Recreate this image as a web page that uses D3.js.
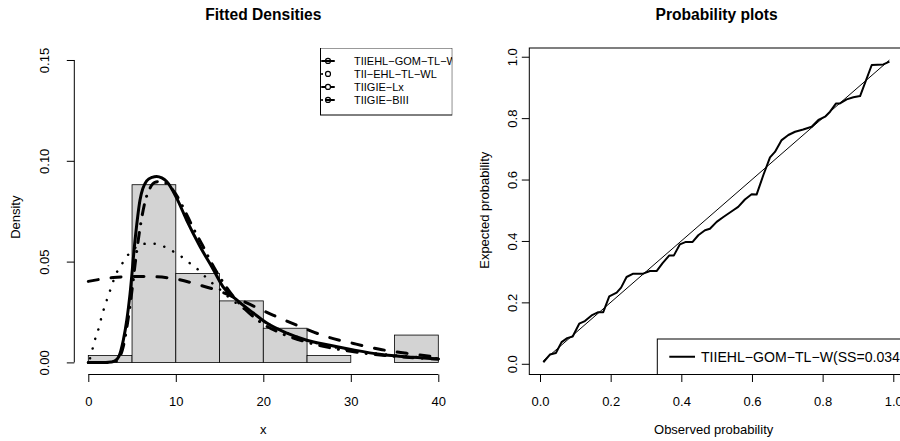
<!DOCTYPE html>
<html>
<head>
<meta charset="utf-8">
<script src="https://cdn.jsdelivr.net/npm/d3@7"></script>
<style>
  body { margin: 0; background: #fff; }
  svg { display: block; font-family: "Liberation Sans", Arial, sans-serif; }
</style>
</head>
<body>
<svg id="chart" width="900" height="441"></svg>
<script>
// Histogram (counts per 5-unit bin)
const binEdges = [0, 5, 10, 15, 20, 25, 30, 35, 40];
const binCounts = [1, 26, 13, 9, 5, 1, 0, 4];
const sampleSize = 59;

// Fitted density curves
const gomX = [0, 1, 2, 2.6, 3.0, 3.5, 4.0, 4.4, 4.77, 5.34, 5.91, 6.67, 7.3, 7.81, 8.4, 8.96, 10.1, 11.25, 12.77, 14.3, 15.4, 16.96, 18.86, 20.4, 22.7, 24.96, 27.6, 30.3, 33.3, 37.1, 40];
const gomY = [0, 0, 0, 0.0002, 0.0006, 0.003, 0.011, 0.021, 0.034, 0.0605, 0.0805, 0.090, 0.0918, 0.0922, 0.0915, 0.0897, 0.0815, 0.0705, 0.0575, 0.046, 0.0375, 0.031, 0.0245, 0.0195, 0.0145, 0.011, 0.0085, 0.0062, 0.004, 0.0025, 0.0017];

const ehlX = [0.2, 0.39, 0.57, 1.03, 1.64, 2.4, 3.24, 3.8, 4.57, 5.34, 6.48, 7.62, 8.77, 9.9, 10.86, 11.8, 12.77, 13.7, 14.7, 16, 17.5, 20, 22.5, 25, 30, 35, 40];
const ehlY = [0.002, 0.0045, 0.0085, 0.0145, 0.0245, 0.0345, 0.0445, 0.0485, 0.0535, 0.0568, 0.0588, 0.0588, 0.0572, 0.0545, 0.0518, 0.0485, 0.0452, 0.041, 0.0375, 0.0325, 0.0275, 0.0205, 0.015, 0.011, 0.006, 0.0035, 0.002];

const lxX = [0, 2.86, 5.14, 7.4, 10.1, 12.2, 15.05, 18.1, 21.1, 24.2, 27.2, 30.3, 33.3, 36.4, 40];
const lxY = [0.0402, 0.0421, 0.0426, 0.0425, 0.0413, 0.039, 0.0352, 0.0295, 0.0235, 0.0178, 0.0128, 0.0094, 0.0065, 0.0045, 0.0025];

const biiiX = [0, 2, 3, 3.5, 4, 4.5, 5, 5.5, 6, 6.5, 7, 7.6, 8.3, 9, 10, 11, 12, 13, 14, 15, 16, 17, 18, 20, 22, 25, 30, 35, 40];
const biiiY = [0, 0, 0.0003, 0.002, 0.008, 0.020, 0.036, 0.054, 0.069, 0.080, 0.086, 0.0893, 0.0898, 0.0885, 0.0835, 0.0755, 0.0665, 0.0585, 0.050, 0.0425, 0.036, 0.0305, 0.026, 0.019, 0.0145, 0.0100, 0.0055, 0.003, 0.0017];

// Probability plot (observed vs expected), vertices of the step-like line
const obsProb = [0.0094, 0.028, 0.045, 0.061, 0.077, 0.0925, 0.111, 0.127, 0.146, 0.165, 0.179, 0.196, 0.217, 0.2295, 0.245, 0.264, 0.292, 0.311, 0.330, 0.347, 0.366, 0.379, 0.396, 0.413, 0.432, 0.448, 0.467, 0.481, 0.500, 0.519, 0.547, 0.561, 0.580, 0.599, 0.613, 0.632, 0.651, 0.665, 0.684, 0.703, 0.722, 0.745, 0.769, 0.788, 0.807, 0.821, 0.838, 0.849, 0.868, 0.887, 0.906, 0.939, 0.972, 0.989];
const expProb = [0.005, 0.030, 0.035, 0.0705, 0.0836, 0.089, 0.1305, 0.139, 0.1576, 0.168, 0.168, 0.2196, 0.2316, 0.248, 0.2826, 0.2936, 0.2936, 0.302, 0.302, 0.328, 0.353, 0.353, 0.389, 0.397, 0.397, 0.4186, 0.435, 0.44, 0.462, 0.478, 0.500, 0.511, 0.535, 0.552, 0.551, 0.614, 0.672, 0.690, 0.7285, 0.745, 0.7556, 0.763, 0.772, 0.794, 0.8046, 0.821, 0.848, 0.848, 0.861, 0.868, 0.872, 0.973, 0.975, 0.984];

// Ticks and labels
const xTicks = [0, 10, 20, 30, 40];
const densityTicks = [0, 0.05, 0.10, 0.15];
const probTicks = [0, 0.2, 0.4, 0.6, 0.8, 1.0];
const legendNames = ["TIIEHL−GOM−TL−W", "TII−EHL−TL−WL", "TIIGIE−Lx", "TIIGIE−BIII"];
const ppLegend = "TIIEHL−GOM−TL−W(SS=0.034";

const svg = d3.select("#chart");
svg.append("rect").attr("width", 900).attr("height", 441).attr("fill", "#fff");

const AXIS_FONT = 13;
const TITLE_FONT = 15.6;

// ---------------- left panel: fitted densities ----------------
const lp = { left: 74.3, right: 452.3, top: 47.9, bottom: 374.5 };
const xScale = d3.scaleLinear().domain([-1.6, 41.6]).range([lp.left, lp.right]);
const yScale = d3.scaleLinear().domain([-0.006, 0.156]).range([lp.bottom, lp.top]);

svg.append("defs").append("clipPath").attr("id", "clipL")
  .append("rect")
    .attr("x", lp.left).attr("y", lp.top)
    .attr("width", lp.right - lp.left).attr("height", lp.bottom - lp.top);

const left = svg.append("g").attr("clip-path", "url(#clipL)");

const bins = binCounts.map((c, i) => ({ x0: binEdges[i], x1: binEdges[i + 1], d: c / (sampleSize * 5) }));

left.selectAll(".bar")
  .data(bins)
  .enter()
  .append("rect")
    .attr("class", "bar")
    .attr("x", d => xScale(d.x0))
    .attr("width", d => xScale(d.x1) - xScale(d.x0))
    .attr("y", d => yScale(d.d))
    .attr("height", d => yScale(0) - yScale(d.d))
    .attr("fill", "#d3d3d3")
    .attr("stroke", "#000")
    .attr("stroke-width", 0.8);

const curves = [
  { xs: gomX, ys: gomY, dash: null, width: 3, legDash: null },
  { xs: ehlX, ys: ehlY, dash: "0.1,10", width: 2.5, legDash: "0.1,20" },
  { xs: lxX, ys: lxY, dash: "10,13", width: 3, legDash: "3,6" },
  { xs: biiiX, ys: biiiY, dash: "0.1,9,10,9", width: 3, legDash: "0.1,4,10,9" }
];

const densLine = d3.line()
  .x(d => xScale(d[0]))
  .y(d => yScale(d[1]))
  .curve(d3.curveMonotoneX);

left.selectAll(".dens")
  .data(curves)
  .enter()
  .append("path")
    .attr("class", "dens")
    .attr("fill", "none")
    .attr("stroke", "#000")
    .attr("stroke-width", d => d.width)
    .attr("stroke-linecap", "round")
    .attr("stroke-linejoin", "round")
    .attr("stroke-dasharray", d => d.dash)
    .attr("d", d => densLine(d.xs.map((x, i) => [x, d.ys[i]])));

// legend (top right, clipped to the plot region like R does)
const legTop = lp.top, legLeft = 320.5, rowGap = 13;
left.append("rect")
  .attr("x", legLeft).attr("y", legTop)
  .attr("width", lp.right - legLeft).attr("height", 115 - legTop)
  .attr("fill", "#fff").attr("stroke", "#000").attr("stroke-width", 1);

legendNames.forEach((name, i) => {
  const yy = legTop + rowGap * (i + 1);
  left.append("line")
    .attr("x1", 322).attr("x2", 334).attr("y1", yy).attr("y2", yy)
    .attr("stroke", "#000").attr("stroke-width", 2)
    .attr("stroke-linecap", "round")
    .attr("stroke-dasharray", curves[i].legDash);
  left.append("circle")
    .attr("cx", 328).attr("cy", yy).attr("r", 2.5)
    .attr("fill", "none").attr("stroke", "#000").attr("stroke-width", 1.2);
  left.append("text")
    .attr("x", 354).attr("y", yy + 4)
    .attr("font-size", 11)
    .text(name);
});

// axes
const xAxisL = svg.append("g")
  .attr("transform", `translate(0,${lp.bottom})`)
  .call(d3.axisBottom(xScale).tickValues(xTicks).tickSize(7.5).tickSizeOuter(0).tickPadding(15));
xAxisL.select(".domain").attr("d", `M${xScale(0)},0H${xScale(40)}`);

const yAxisL = svg.append("g")
  .attr("transform", `translate(${lp.left},0)`)
  .call(d3.axisLeft(yScale).tickValues(densityTicks).tickFormat(d3.format(".2f")).tickSize(7.5).tickSizeOuter(0));
yAxisL.select(".domain").attr("d", `M0,${yScale(0)}V${yScale(0.15)}`);
yAxisL.selectAll(".tick text")
  .attr("x", null).attr("dy", null)
  .attr("text-anchor", "middle")
  .attr("transform", "translate(-25,0) rotate(-90)");

[xAxisL, yAxisL].forEach(g => {
  g.attr("font-family", null).attr("font-size", AXIS_FONT);
  g.selectAll("line, path").attr("stroke", "#000").attr("stroke-width", 1);
  g.selectAll("text").attr("fill", "#000");
});

svg.append("text")
  .attr("x", (lp.left + lp.right) / 2).attr("y", 20)
  .attr("text-anchor", "middle").attr("font-weight", "bold").attr("font-size", TITLE_FONT)
  .text("Fitted Densities");
svg.append("text")
  .attr("x", (lp.left + lp.right) / 2).attr("y", 434)
  .attr("text-anchor", "middle").attr("font-size", AXIS_FONT)
  .text("x");
svg.append("text")
  .attr("transform", `translate(20,${(yScale(0) + yScale(0.15)) / 2 + 6}) rotate(-90)`)
  .attr("text-anchor", "middle").attr("font-size", AXIS_FONT)
  .text("Density");

// ---------------- right panel: probability plot ----------------
const rp = { left: 529.3, right: 904, top: 48, bottom: 374.5 };
const pxScale = d3.scaleLinear().domain([-0.0303, 1.0303]).range([rp.left, rp.right]);
const pyScale = d3.scaleLinear().domain([-0.0349, 1.0284]).range([rp.bottom, rp.top]);

svg.append("defs").append("clipPath").attr("id", "clipR")
  .append("rect")
    .attr("x", rp.left).attr("y", rp.top)
    .attr("width", rp.right - rp.left).attr("height", rp.bottom - rp.top);

const right = svg.append("g").attr("clip-path", "url(#clipR)");

// reference diagonal
right.append("line")
  .attr("x1", pxScale(obsProb[0])).attr("y1", pyScale(obsProb[0]))
  .attr("x2", pxScale(obsProb[obsProb.length - 1])).attr("y2", pyScale(obsProb[obsProb.length - 1]))
  .attr("stroke", "#000").attr("stroke-width", 1);

const ppLine = d3.line()
  .x(d => pxScale(d[0]))
  .y(d => pyScale(d[1]));

right.append("path")
  .datum(obsProb.map((x, i) => [x, expProb[i]]))
  .attr("fill", "none")
  .attr("stroke", "#000")
  .attr("stroke-width", 2)
  .attr("stroke-linejoin", "round")
  .attr("d", ppLine);

// legend (bottom right)
const ppLegTop = 339, ppLegLeft = 657.3;
right.append("rect")
  .attr("x", ppLegLeft).attr("y", ppLegTop)
  .attr("width", rp.right - ppLegLeft).attr("height", rp.bottom - ppLegTop)
  .attr("fill", "#fff").attr("stroke", "#000").attr("stroke-width", 1);
const ppLegMid = (ppLegTop + rp.bottom) / 2;
right.append("line")
  .attr("x1", 669.3).attr("x2", 695).attr("y1", ppLegMid).attr("y2", ppLegMid)
  .attr("stroke", "#000").attr("stroke-width", 2);
svg.append("text")
  .attr("x", 701).attr("y", ppLegMid + 4.8)
  .attr("font-size", 14.1)
  .text(ppLegend);

// frame
svg.append("rect")
  .attr("x", rp.left).attr("y", rp.top)
  .attr("width", rp.right - rp.left).attr("height", rp.bottom - rp.top)
  .attr("fill", "none").attr("stroke", "#000").attr("stroke-width", 1);

const xAxisR = svg.append("g")
  .attr("transform", `translate(0,${rp.bottom})`)
  .call(d3.axisBottom(pxScale).tickValues(probTicks).tickFormat(d3.format(".1f")).tickSize(7.5).tickSizeOuter(0).tickPadding(15));
xAxisR.select(".domain").remove();

const yAxisR = svg.append("g")
  .attr("transform", `translate(${rp.left},0)`)
  .call(d3.axisLeft(pyScale).tickValues(probTicks).tickFormat(d3.format(".1f")).tickSize(7.5).tickSizeOuter(0));
yAxisR.select(".domain").remove();
yAxisR.selectAll(".tick text")
  .attr("x", null).attr("dy", null)
  .attr("text-anchor", "middle")
  .attr("transform", "translate(-12,0) rotate(-90)");

[xAxisR, yAxisR].forEach(g => {
  g.attr("font-family", null).attr("font-size", AXIS_FONT);
  g.selectAll("line, path").attr("stroke", "#000").attr("stroke-width", 1);
  g.selectAll("text").attr("fill", "#000");
});

svg.append("text")
  .attr("x", (rp.left + rp.right) / 2).attr("y", 20)
  .attr("text-anchor", "middle").attr("font-weight", "bold").attr("font-size", TITLE_FONT)
  .text("Probability plots");
svg.append("text")
  .attr("x", (rp.left + rp.right) / 2 - 3).attr("y", 434)
  .attr("text-anchor", "middle").attr("font-size", AXIS_FONT)
  .text("Observed probability");
svg.append("text")
  .attr("transform", `translate(489,${(pyScale(0) + pyScale(1)) / 2}) rotate(-90)`)
  .attr("text-anchor", "middle").attr("font-size", AXIS_FONT)
  .text("Expected probability");
</script>
</body>
</html>
